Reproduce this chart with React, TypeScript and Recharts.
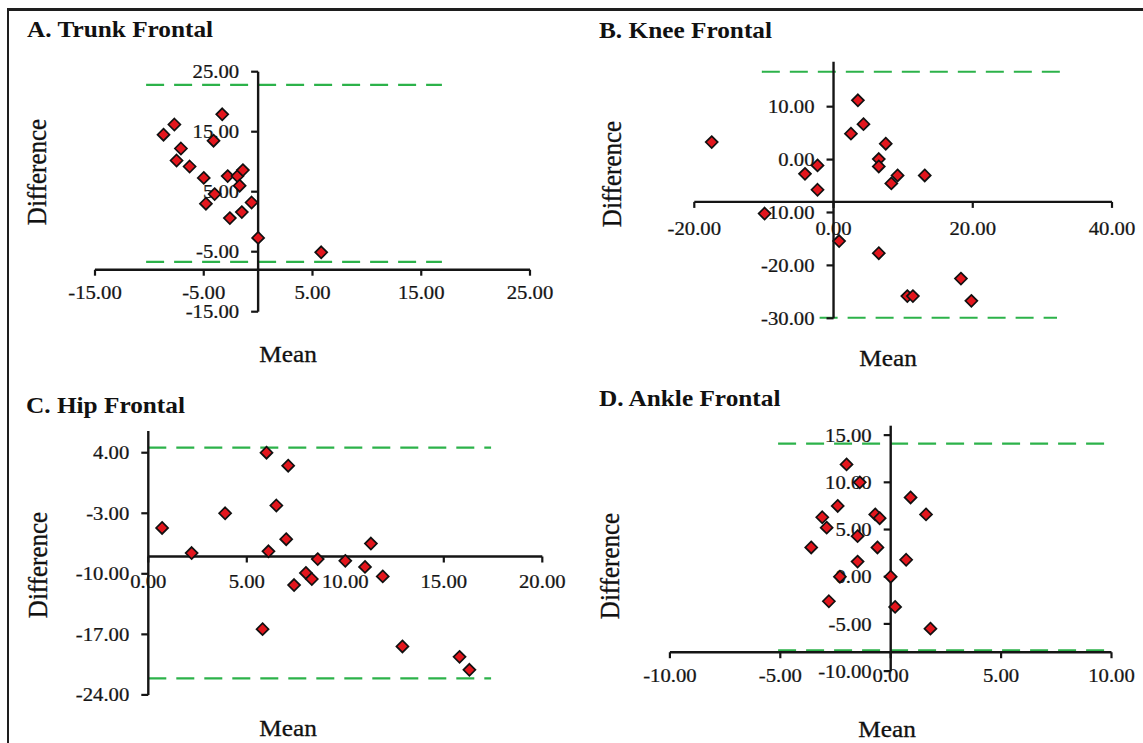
import React from 'react';
import { ScatterChart, Scatter, XAxis, YAxis, ReferenceLine, ReferenceDot } from 'recharts';

// A. Trunk Frontal
const trunkMean = [-8.7, -7.7, -7.1, -7.5, -6.3, -5.0, -4.8, -4.0, -4.1, -3.3, -2.8, -2.6, -1.9, -1.7, -1.4, -1.5, -0.6, 0.0, 5.8];
const trunkDiff = [14.5, 16.2, 12.2, 10.2, 9.2, 7.3, 3.0, 4.6, 13.5, 17.9, 7.6, 0.6, 7.6, 6.0, 8.6, 1.6, 3.2, -2.7, -5.1];
const trunkXTicks = [-15, -5, 5, 15, 25];
const trunkYTicks = [25, 15, 5, -5, -15];
const trunkLimits = [22.8, -6.7];
const trunkLimitSpan = [[-10.3, 16.9], [-10.3, 16.9]];

// B. Knee Frontal
const kneeMean = [-17.5, -4.1, -2.3, -2.3, -9.9, 2.5, 3.5, 4.3, 7.5, 6.5, 6.5, 9.2, 8.3, 13.1, 0.8, 6.5, 10.6, 11.4, 18.3, 19.8];
const kneeDiff = [3.3, -2.7, -1.1, -5.7, -10.2, 4.9, 11.2, 6.7, 3.0, 0.1, -1.3, -3.0, -4.5, -3.0, -15.4, -17.7, -25.8, -25.8, -22.5, -26.7];
const kneeXTicks = [-20, 0, 20, 40];
const kneeYTicks = [10, 0, -10, -20, -30];
const kneeLimits = [16.6, -29.9];
const kneeLimitSpan = [[-10.3, 33.1], [-2, 32.1]];

// C. Hip Frontal
const hipMean = [0.7, 2.2, 3.9, 6.0, 7.1, 6.5, 7.0, 6.1, 5.8, 7.4, 8.0, 8.3, 8.6, 10.0, 11.0, 11.3, 11.9, 12.9, 15.8, 16.3];
const hipDiff = [-4.7, -7.6, -3.0, 4.0, 2.5, -2.1, -6.0, -7.4, -16.4, -11.3, -9.9, -10.6, -8.3, -8.5, -9.2, -6.5, -10.3, -18.4, -19.6, -21.1];
const hipXTicks = [0, 5, 10, 15, 20];
const hipYTicks = [4, -3, -10, -17, -24];
const hipLimits = [4.6, -22.1];
const hipLimitSpan = [[0, 17.4], [0, 17.4]];

// D. Ankle Frontal
const ankleMean = [-2.0, -1.4, -2.4, -3.1, -2.9, -3.6, -1.5, -0.7, -0.5, -0.6, -1.5, -2.3, -2.8, 0.0, 0.2, 0.7, 0.9, 1.6, 1.8];
const ankleDiff = [11.9, 10.0, 7.5, 6.3, 5.2, 3.1, 4.3, 6.6, 6.2, 3.1, 1.6, 0.0, -2.6, 0.0, -3.2, 1.8, 8.4, 6.6, -5.5];
const ankleXTicks = [-10, -5, 0, 5, 10];
const ankleYTicks = [15, 10, 5, 0, -5, -10];
const ankleLimits = [14.1, -7.8];
const ankleLimitSpan = [[-5.1, 10], [-5.1, 10]];

const SERIF = "'Liberation Serif', 'Times New Roman', Times, serif";
const INK = '#151515';
const GREEN = '#2cb24a';

const toPoints = (xs: number[], ys: number[]) => xs.map((x, i) => ({ x, y: ys[i] }));

const panels = [
  {
    id: 'A',
    box: { left: 0, top: 0, width: 571, height: 372 },
    margin: { top: 71.7, right: 41, bottom: 60.3, left: 95 },
    xDomain: [-15, 25], yDomain: [-15, 25], cross: -8, xLabelDy: 23,
    data: toPoints(trunkMean, trunkDiff), xTicks: trunkXTicks, yTicks: trunkYTicks,
    limits: trunkLimits, spans: trunkLimitSpan,
  },
  {
    id: 'B',
    box: { left: 571, top: 0, width: 572, height: 372 },
    margin: { top: 61.7, right: 31, bottom: 53.7, left: 123.3 },
    xDomain: [-20, 40], yDomain: [-30, 18.5], cross: -8, xLabelDy: 27,
    data: toPoints(kneeMean, kneeDiff), xTicks: kneeXTicks, yTicks: kneeYTicks,
    limits: kneeLimits, spans: kneeLimitSpan,
  },
  {
    id: 'C',
    box: { left: 0, top: 372, width: 571, height: 371 },
    margin: { top: 59.1, right: 28.7, bottom: 48.1, left: 148.3 },
    xDomain: [0, 20], yDomain: [-24, 6.5], cross: -8, xLabelDy: 25,
    data: toPoints(hipMean, hipDiff), xTicks: hipXTicks, yTicks: hipYTicks,
    limits: hipLimits, spans: hipLimitSpan,
  },
  {
    id: 'D',
    box: { left: 571, top: 372, width: 572, height: 371 },
    margin: { top: 53.7, right: 31.5, bottom: 71.9, left: 98.9 },
    xDomain: [-10, 10], yDomain: [-10, 16], cross: -8, xLabelDy: 23.5,
    data: toPoints(ankleMean, ankleDiff), xTicks: ankleXTicks, yTicks: ankleYTicks,
    limits: ankleLimits, spans: ankleLimitSpan,
  },
];

const titles = [
  { text: 'A. Trunk Frontal', x: 27, y: 37 },
  { text: 'B. Knee Frontal', x: 599, y: 38 },
  { text: 'C. Hip Frontal', x: 26, y: 413 },
  { text: 'D. Ankle Frontal', x: 599, y: 406 },
];
const yTitles = [
  { x: 37, y: 172 },
  { x: 612, y: 174 },
  { x: 38, y: 565 },
  { x: 610, y: 566 },
];
const xTitles = [
  { x: 288, y: 362 },
  { x: 888, y: 366 },
  { x: 288, y: 736 },
  { x: 887, y: 737 },
];

const Diamond = (props: any) => {
  const { cx, cy } = props;
  const r = 6;
  return (
    <polygon
      points={`${cx},${cy - r} ${cx + r},${cy} ${cx},${cy + r} ${cx - r},${cy}`}
      fill="#e3161d"
      stroke="#111"
      strokeWidth={1.7}
    />
  );
};

const tickText = (x: number, y: number, label: string, anchor: 'middle' | 'end') => (
  <text
    transform={`translate(${x},${y}) scale(1.12,1)`}
    textAnchor={anchor}
    dominantBaseline="central"
    fontSize={18.5}
    fontFamily={SERIF}
    fill={INK}
    stroke={INK}
    strokeWidth={0.25}
  >
    {label}
  </text>
);

const Panel = ({ p }: { p: any }) => {
  const [xMin, xMax] = p.xDomain;
  const [yMin, yMax] = p.yDomain;
  return (
    <div style={{ position: 'absolute', left: p.box.left, top: p.box.top }}>
      <ScatterChart width={p.box.width} height={p.box.height} margin={p.margin}>
        <XAxis type="number" dataKey="x" domain={p.xDomain} hide allowDataOverflow />
        <YAxis type="number" dataKey="y" domain={p.yDomain} hide allowDataOverflow />
        {p.limits.map((v: number, i: number) => (
          <ReferenceLine
            key={`lim${i}`}
            segment={[{ x: p.spans[i][0], y: v }, { x: p.spans[i][1], y: v }]}
            stroke={GREEN}
            strokeWidth={2.2}
            strokeDasharray="18 10"
            ifOverflow="visible"
          />
        ))}
        <ReferenceLine
          segment={[{ x: xMin, y: p.cross }, { x: xMax, y: p.cross }]}
          stroke={INK}
          strokeWidth={2.4}
          ifOverflow="visible"
        />
        <ReferenceLine
          segment={[{ x: 0, y: yMin }, { x: 0, y: yMax }]}
          stroke={INK}
          strokeWidth={2.4}
          ifOverflow="visible"
        />
        {p.xTicks.map((t: number) => (
          <ReferenceDot
            key={`xt${t}`}
            x={t}
            y={p.cross}
            ifOverflow="visible"
            shape={(d: any) => (
              <g>
                <line x1={d.cx} y1={d.cy} x2={d.cx} y2={d.cy + 6} stroke={INK} strokeWidth={2.2} />
                {tickText(d.cx, d.cy + p.xLabelDy, t.toFixed(2), 'middle')}
              </g>
            )}
          />
        ))}
        {p.yTicks.map((t: number) => (
          <ReferenceDot
            key={`yt${t}`}
            x={0}
            y={t}
            ifOverflow="visible"
            shape={(d: any) => (
              <g>
                <line x1={d.cx - 7} y1={d.cy} x2={d.cx} y2={d.cy} stroke={INK} strokeWidth={2.2} />
                {tickText(d.cx - 19, d.cy, t.toFixed(2), 'end')}
              </g>
            )}
          />
        ))}
        <Scatter data={p.data} shape={Diamond} isAnimationActive={false} />
      </ScatterChart>
    </div>
  );
};

export default function App() {
  return (
    <div
      style={{
        position: 'absolute',
        left: 0,
        top: 0,
        width: 1143,
        height: 743,
        background: '#fff',
        overflow: 'hidden',
      }}
    >
      <div
        style={{
          position: 'absolute',
          left: 7,
          top: 8,
          width: 1143,
          height: 800,
          borderTop: '3px solid #1e1e1e',
          borderLeft: '2.5px solid #1e1e1e',
        }}
      />
      {panels.map((p) => (
        <Panel key={p.id} p={p} />
      ))}
      <svg
        width={1143}
        height={743}
        style={{ position: 'absolute', left: 0, top: 0, pointerEvents: 'none' }}
      >
        {titles.map((t) => (
          <text
            key={t.text}
            transform={`translate(${t.x},${t.y}) scale(1.1,1)`}
            fontSize={23}
            fontWeight="bold"
            fontFamily={SERIF}
            fill="#111"
          >
            {t.text}
          </text>
        ))}
        {yTitles.map((t, i) => (
          <text
            key={`dy${i}`}
            transform={`translate(${t.x},${t.y}) rotate(-90) scale(1,1.1)`}
            textAnchor="middle"
            dominantBaseline="central"
            fontSize={25}
            fontFamily={SERIF}
            fill="#111"
            stroke="#111"
            strokeWidth={0.3}
          >
            Difference
          </text>
        ))}
        {xTitles.map((t, i) => (
          <text
            key={`mx${i}`}
            transform={`translate(${t.x},${t.y}) scale(1.1,1)`}
            textAnchor="middle"
            fontSize={23}
            fontFamily={SERIF}
            fill="#111"
            stroke="#111"
            strokeWidth={0.3}
          >
            Mean
          </text>
        ))}
      </svg>
    </div>
  );
}
